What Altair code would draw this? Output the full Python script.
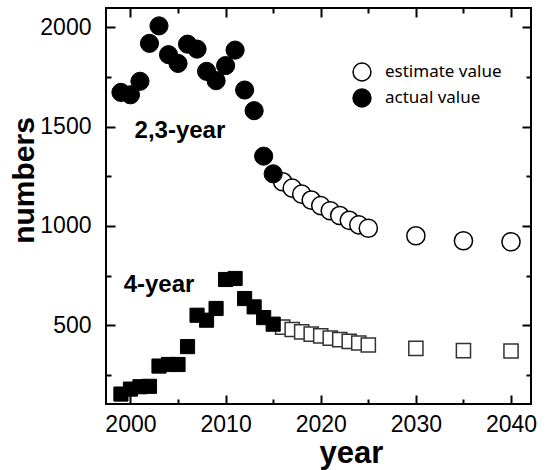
import altair as alt
import pandas as pd

# ---- data ----
act_years = list(range(1999, 2016))
act_23 = [1672, 1660, 1728, 1919, 2007, 1862, 1818, 1915, 1890, 1778, 1731, 1807, 1885, 1684, 1580, 1351, 1262]
act_4 = [153, 178, 190, 192, 294, 302, 302, 392, 550, 525, 584, 730, 735, 634, 592, 538, 505]

est_years = list(range(2016, 2026)) + [2030, 2035, 2040]
est_23 = [1222, 1190, 1160, 1130, 1102, 1076, 1052, 1028, 1005, 988, 950, 925, 920]
est_4 = [490, 478, 466, 455, 446, 435, 427, 418, 410, 400, 383, 372, 370]

ann_text = ["2,3-year", "4-year"]
ann_x = [2005.2, 2003.0]
ann_y = [1480, 701]

x_major = [2000, 2010, 2020, 2030, 2040]
x_minor = [2005, 2015, 2025, 2035]
y_major = [500, 1000, 1500, 2000]
y_minor = [250, 750, 1250, 1750]

kinds = ["estimate value", "actual value"]

# ---- tables ----
def table(years, vals, kind, group):
    return pd.DataFrame({"year": years, "value": vals, "kind": kind, "group": group})

est_c = table(est_years, est_23, kinds[0], "2,3-year")
est_s = table(est_years, est_4, kinds[0], "4-year")
act_c = table(act_years, act_23, kinds[1], "2,3-year")
act_s = table(act_years, act_4, kinds[1], "4-year")
all_df = pd.concat([est_c, est_s, act_c, act_s], ignore_index=True)
ann_df = pd.DataFrame({"text": ann_text, "year": ann_x, "value": ann_y})

xs = alt.Scale(domain=[1997.43, 2042.1], nice=False, zero=False)
ys = alt.Scale(domain=[103, 2097], nice=False, zero=False)
fs = alt.Scale(domain=kinds, range=["white", "black"])

FONT = "Liberation Sans"


def xenc(axis=None):
    return alt.X("year:Q", scale=xs, axis=axis)


def yenc(axis=None):
    return alt.Y("value:Q", scale=ys, axis=axis)


x_main_axis = alt.Axis(
    values=x_major, format="d", orient="bottom", offset=-9, tickSize=9, tickWidth=2,
    tickColor="black", domain=False, grid=False, labelFlush=False, labelPadding=9,
    labelFont=FONT, labelFontSize=23, labelColor="black",
    title="year", titleFont=FONT, titleFontSize=31, titleFontWeight="bold",
    titleColor="black", titleX=245, titleY=67, titleBaseline="alphabetic",
)
y_main_axis = alt.Axis(
    values=y_major, format="d", orient="left", offset=-9, tickSize=9, tickWidth=2,
    tickColor="black", domain=False, grid=False, labelFlush=False, labelPadding=15,
    labelFont=FONT, labelFontSize=23, labelColor="black",
    title="numbers", titleFont=FONT, titleFontSize=30, titleFontWeight="bold",
    titleColor="black", titleX=-82, titleY=172, titleAngle=270, titleBaseline="alphabetic",
)


def tick_axis(values, orient, size):
    return alt.Axis(values=values, orient=orient, offset=-size, tickSize=size, tickWidth=2,
                    tickColor="black", labels=False, domain=False, grid=False, title=None)


legend = alt.Legend(
    title=None, orient="none", legendX=246, legendY=54, symbolType="circle",
    symbolSize=320, symbolStrokeColor="black", symbolStrokeWidth=1.5,
    labelFont="Noto Sans", labelFontSize=17, labelColor="black",
    labelOffset=13, rowPadding=2, padding=0,
)

circ_est = alt.Chart(est_c).mark_point(shape="circle", filled=True, size=330, stroke="black",
                                       strokeWidth=1.5, opacity=1).encode(
    x=xenc(x_main_axis), y=yenc(y_main_axis),
    fill=alt.Fill("kind:N", scale=fs, legend=legend),
)
sq_est = alt.Chart(est_s).mark_point(shape="square", filled=True, size=200, stroke="#333333",
                                     strokeWidth=1.5, opacity=1).encode(
    x=xenc(), y=yenc(), fill=alt.Fill("kind:N", scale=fs, legend=None),
)
circ_act = alt.Chart(act_c).mark_point(shape="circle", filled=True, size=330, stroke="black",
                                       strokeWidth=1, opacity=1).encode(
    x=xenc(), y=yenc(), fill=alt.Fill("kind:N", scale=fs, legend=None),
)
sq_act = alt.Chart(act_s).mark_point(shape="square", filled=True, size=200, stroke="black",
                                     strokeWidth=1, opacity=1).encode(
    x=xenc(), y=yenc(), fill=alt.Fill("kind:N", scale=fs, legend=None),
)
ann = alt.Chart(ann_df).mark_text(font=FONT, fontSize=24, fontWeight="bold", color="black").encode(
    x=xenc(), y=yenc(), text="text:N"
)

ghost = alt.Chart(all_df).mark_point(opacity=0)
t1 = ghost.encode(x=xenc(tick_axis(x_major, "top", 9)), y=yenc(tick_axis(y_major, "right", 9)))
t2 = ghost.encode(x=xenc(tick_axis(x_minor, "bottom", 5)), y=yenc(tick_axis(y_minor, "left", 5)))
t3 = ghost.encode(x=xenc(tick_axis(x_minor, "top", 5)), y=yenc(tick_axis(y_minor, "right", 5)))

chart = alt.layer(circ_est, t1, t2, t3, sq_est, circ_act, sq_act, ann).resolve_axis(
    x="independent", y="independent"
).properties(
    width=425, height=396,
    padding={"left": 106, "top": 8, "right": 15, "bottom": 66},
    autosize="none", background="white",
).configure_view(stroke="black", strokeWidth=2)

chart.save("out.html", embed_options={"renderer": "svg", "actions": False})
